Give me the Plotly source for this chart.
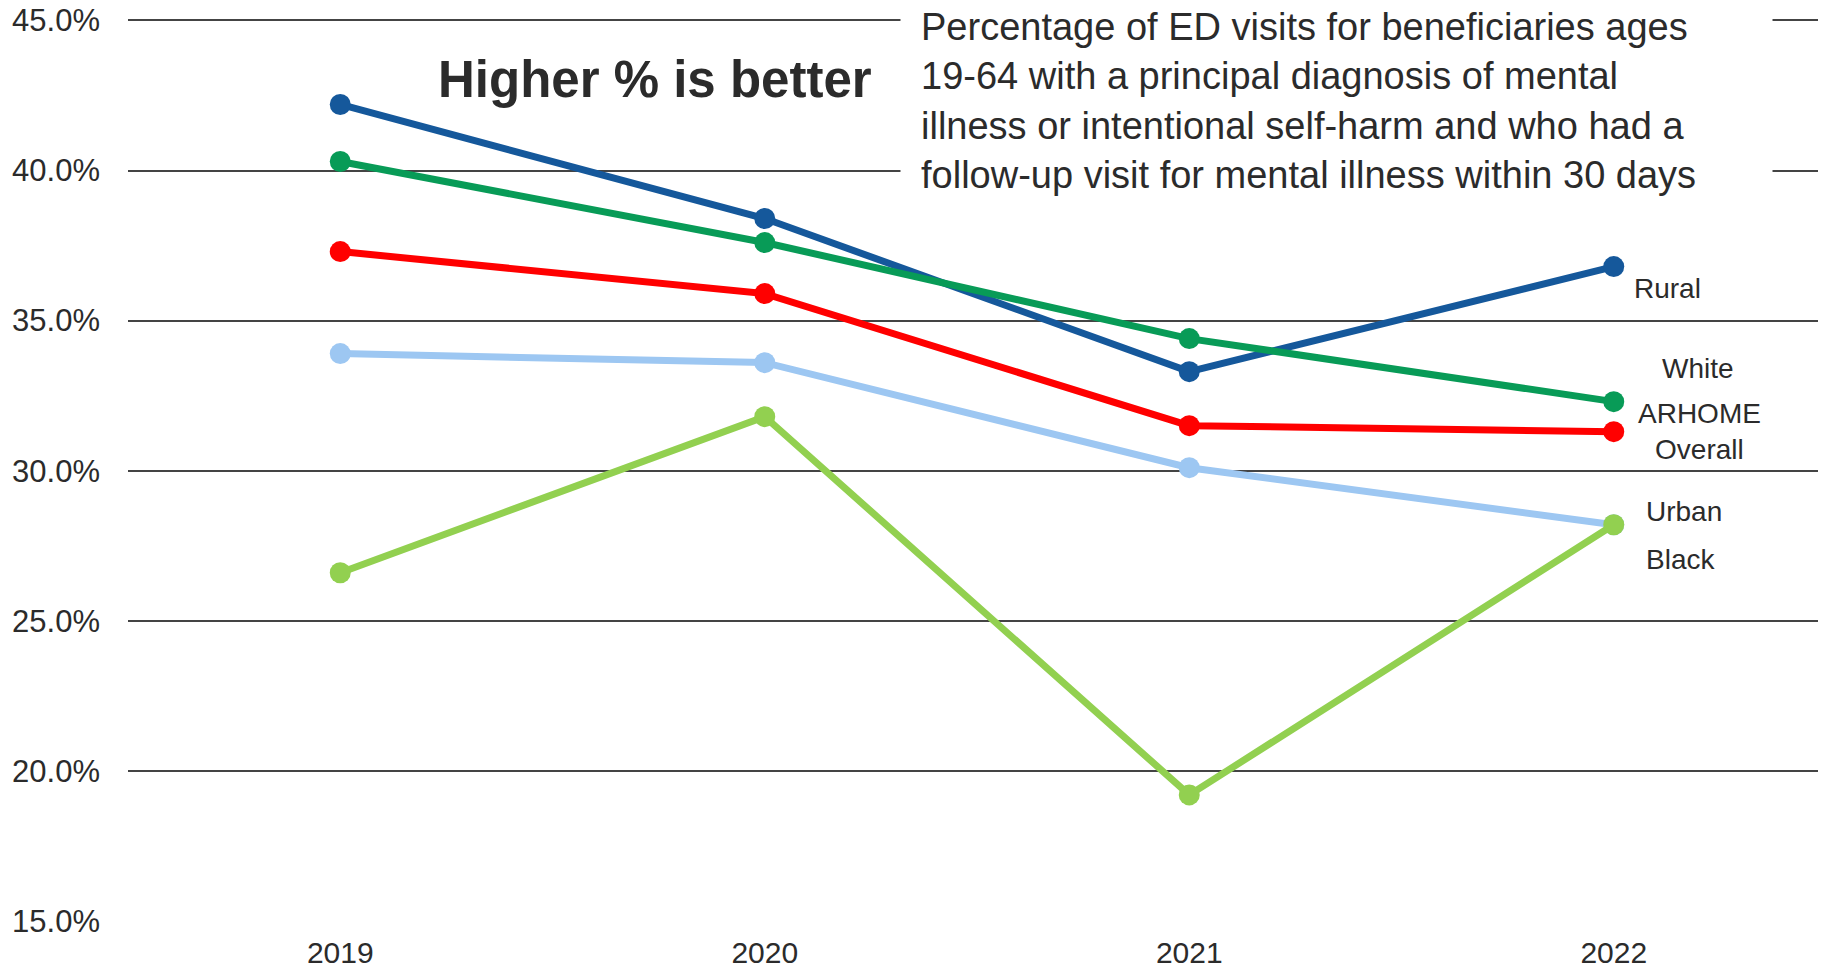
import plotly.graph_objects as go

years = ["2019", "2020", "2021", "2022"]
rural = [42.2, 38.4, 33.3, 36.8]
white = [40.3, 37.6, 34.4, 32.3]
arhome = [37.3, 35.9, 31.5, 31.3]
urban = [33.9, 33.6, 30.1, 28.2]
black = [26.6, 31.8, 19.2, 28.2]

ytick_vals = [15, 20, 25, 30, 35, 40, 45]
ytick_text = ["15.0%", "20.0%", "25.0%", "30.0%", "35.0%", "40.0%", "45.0%"]

series = [
    ("Urban", urban, "#9DC7F2"),
    ("Black", black, "#92D050"),
    ("ARHOME Overall", arhome, "#FF0000"),
    ("Rural", rural, "#15589B"),
    ("White", white, "#089B57"),
]

fig = go.Figure()
for name, vals, color in series:
    fig.add_trace(go.Scatter(
        x=years, y=vals, name=name, mode="lines+markers",
        line=dict(color=color, width=7),
        marker=dict(color=color, size=21),
        showlegend=False, hoverinfo="skip",
    ))

last = len(years) - 1  # category index of the last year
label_font = dict(family="Liberation Sans, Arial, sans-serif", size=28, color="#2b2b2b")
labels = [
    ("Rural", rural[-1], "left", 18, -22),
    ("White", white[-1], "center", 84, 33),
    ("ARHOME<br>Overall", arhome[-1], "center", 86, 0),
    ("Urban", urban[-1], "left", 30, 13),
    ("Black", black[-1], "left", 30, -35),
]
annotations = []
for text, yv, anchor, xs, ys in labels:
    annotations.append(dict(
        x=last, y=yv, xref="x", yref="y", text=text, showarrow=False,
        xanchor=anchor, yanchor="middle", xshift=xs, yshift=ys, font=label_font,
        align="center",
    ))

annotations.append(dict(
    x=0.3104, y=0.9322, xref="paper", yref="paper", xanchor="center", yanchor="middle",
    text="<b>Higher % is better</b>", showarrow=False,
    font=dict(family="Liberation Sans, Arial, sans-serif", size=51, color="#2b2b2b"),
))
annotations.append(dict(
    x=0.4547, y=0.9084, xref="paper", yref="paper", xanchor="left", yanchor="middle",
    text=("Percentage of ED visits for beneficiaries ages<br>"
          "19-64 with a principal diagnosis of mental<br>"
          "illness or intentional self-harm and who had a<br>"
          "follow-up visit for mental illness within 30 days"),
    showarrow=False, align="left", width=831, borderpad=20, bgcolor="white",
    font=dict(family="Liberation Sans Narrow, Arial Narrow, sans-serif", size=38, color="#2b2b2b"),
))

fig.update_layout(
    width=1818, height=966,
    margin=dict(l=120, r=0, t=10, b=53, autoexpand=False),
    paper_bgcolor="white", plot_bgcolor="white",
    xaxis=dict(type="category", range=[-0.5, 3.5], showgrid=False, zeroline=False,
               showline=False, ticks="", ticklabelstandoff=11, automargin=False,
               tickfont=dict(family="Liberation Sans, Arial, sans-serif", size=30, color="#2b2b2b")),
    yaxis=dict(range=[15, 45.08], tickvals=ytick_vals, ticktext=ytick_text,
               showgrid=True, gridcolor="#444444", gridwidth=2, zeroline=False,
               showline=False, ticks="", ticklabelstandoff=27, automargin=False,
               ticklabeloverflow="allow",
               tickfont=dict(family="Liberation Sans, Arial, sans-serif", size=31, color="#2b2b2b")),
    annotations=annotations,
)

fig.write_html("out.html")
